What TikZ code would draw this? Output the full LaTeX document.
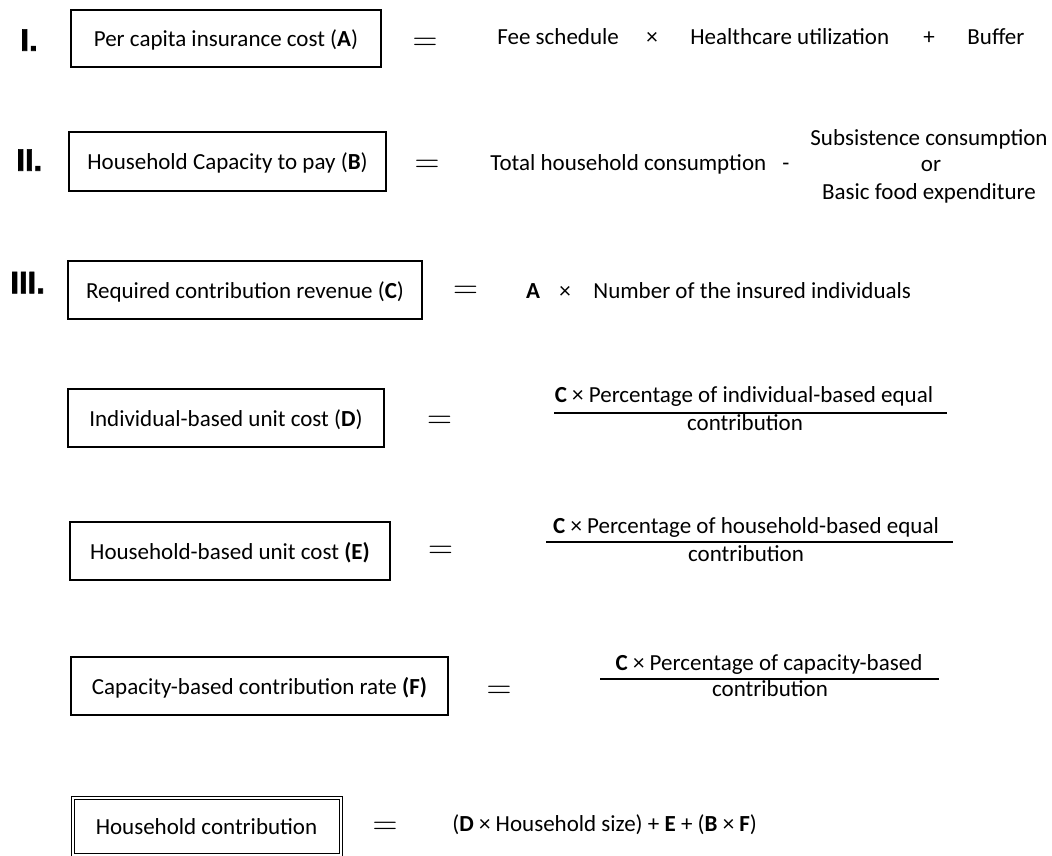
\documentclass[tikz,border=0pt]{standalone}
\usepackage{fontspec}
\setmainfont{Carlito}
\newfontfamily\numfont{Liberation Sans}[BoldFeatures={FakeBold=2}]
\begin{document}
\begin{tikzpicture}[x=0.5pt, y=-0.5pt,
    every node/.style={font=\fontsize{11.5}{13.5}\selectfont, inner sep=0pt},
    box/.style={draw, line width=0.65pt, text height=0.8em, text depth=0pt, minimum height=29pt},
    txt/.style={anchor=base west},
    op/.style={anchor=base},
    eq/.style={font=\fontsize{18}{18}\selectfont, yshift=-2pt},
    roman/.style={anchor=base west, font={\numfont\bfseries\fontsize{15.5}{16}\selectfont}}]
    \useasboundingbox (0,0) rectangle (1052,855);
    % row I
    \node[roman] (one) at (20,50.7) {I.};
    \node[box, minimum width=155pt, minimum height=28.5pt] (costA) at (226,38.5) {Per capita insurance cost (\textbf{A})};
    \node[eq] (eqA) at (425,40) {$=$};
    \node[txt] (fee) at (497,45) {Fee schedule};
    \node[op] (timesA) at (652,45) {×};
    \node[txt] (util) at (690,45) {Healthcare utilization};
    \node[op] (plusA) at (929,45) {+};
    \node[txt] (buffer) at (967,45) {Buffer};
    % row II
    \node[roman] (two) at (16,170.7) {II.};
    \node[box, minimum width=158.5pt, minimum height=29.5pt] (capB) at (227.5,161.5) {Household Capacity to pay (\textbf{B})};
    \node[eq] (eqB) at (427,162) {$=$};
    \node[txt] (total) at (490,170.7) {Total household consumption};
    \node[op] (minusB) at (786,170.7) {-};
    \node[op] (subs) at (929,145.7) {Subsistence consumption};
    \node[op] (or) at (931,171.7) {or};
    \node[op] (food) at (929,200) {Basic food expenditure};
    % row III
    \node[roman] (three) at (10,293.3) {III.};
    \node[box, minimum width=177pt] (revC) at (245,290) {Required contribution revenue (\textbf{C})};
    \node[eq] (eqC) at (465.5,288) {$=$};
    \node[op] (letA) at (533,298) {\textbf{A}};
    \node[op] (timesC) at (565,298) {×};
    \node[txt] (insured) at (593,298) {Number of the insured individuals};
    % unit cost D
    \node[box, minimum width=158pt] (unitD) at (226,418) {Individual-based unit cost (\textbf{D})};
    \node[eq] (eqD) at (439.5,418) {$=$};
    \node[op] (numD) at (744,402.7) {\textbf{C} × Percentage of individual-based equal};
    \node[op] (denD) at (745,430.7) {contribution};
    \draw[line width=0.6pt] (554,413) -- (947,413);
    % unit cost E
    \node[box, minimum width=160pt] (unitE) at (230,551) {Household-based unit cost \textbf{(E)}};
    \node[eq] (eqE) at (440.5,548) {$=$};
    \node[op] (numE) at (746,533.3) {\textbf{C} × Percentage of household-based equal};
    \node[op] (denE) at (746,561) {contribution};
    \draw[line width=0.6pt] (546,542) -- (953,542);
    % rate F
    \node[box, minimum width=188.5pt] (rateF) at (259.5,686) {Capacity-based contribution rate \textbf{(F)}};
    \node[eq] (eqF) at (499,688) {$=$};
    \node[op] (numF) at (769,670) {\textbf{C} × Percentage of capacity-based};
    \node[op] (denF) at (770,696.7) {contribution};
    \draw[line width=0.6pt] (600,679) -- (939,679);
    % household contribution
    \node[box, line width=0.5pt, double, double distance=1pt, minimum width=134pt, minimum height=28.5pt] (contrib) at (206.5,826) {Household contribution};
    \node[eq] (eqG) at (385,824) {$=$};
    \node[txt] (formula) at (452,831) {(\textbf{D} × Household size) + \textbf{E} + (\textbf{B} × \textbf{F})};
\end{tikzpicture}
\end{document}
